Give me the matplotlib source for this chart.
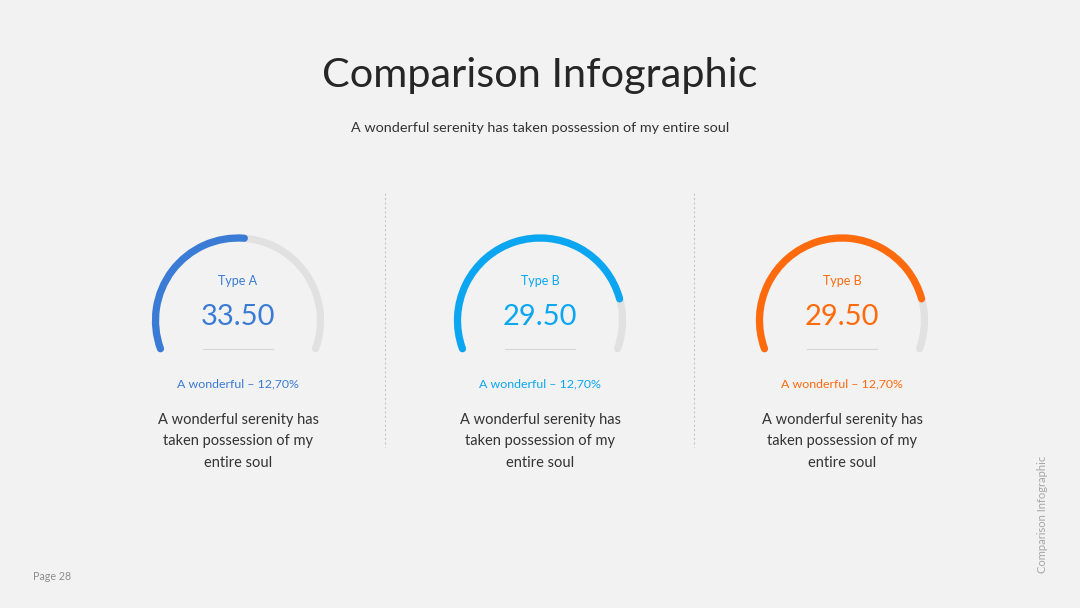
import matplotlib
matplotlib.use("Agg")
import matplotlib.pyplot as plt
from matplotlib.patches import Arc

# ---- data ----
type_labels = ["Type A", "Type B", "Type B"]
gauge_values = [33.50, 29.50, 29.50]
fill_percent = [52, 84, 84]          # share of the arc that is coloured
captions = ["A wonderful \u2013 12,70%"] * 3
body_text = "A wonderful serenity has\ntaken possession of my\nentire soul"
colors = ["#3A7BD5", "#0AA6F2", "#FF6A0C"]

W, H = 1080, 608
BG = "#F2F2F2"
plt.rcParams['font.family'] = ['Lato', 'DejaVu Sans']

fig = plt.figure(figsize=(W / 100, H / 100), dpi=100, facecolor=BG)
ax = fig.add_axes([0, 0, 1, 1])
ax.set_xlim(0, W)
ax.set_ylim(0, H)
ax.set_aspect('equal')
ax.axis('off')


def Y(y):
    # pixel row (top = 0) -> data y
    return H - y


ax.text(540, Y(75), "Comparison Infographic", ha='center', va='center',
        fontsize=29.8, color='#262626')
ax.text(540, Y(128), "A wonderful serenity has taken possession of my entire soul",
        ha='center', va='center', fontsize=10.4, color='#333333')

# dashed separators
for xs in (385, 694):
    ax.plot([xs, xs], [Y(193), Y(447)], color='#C8C8C8', lw=0.8,
            linestyle=(0, (2, 2)))

start_ang, span = 200, 220
radius = 82.5
cy = 320.5
centers = [238, 540, 842]

for i, cx in enumerate(centers):
    col = colors[i]
    track = Arc((cx, Y(cy)), 2 * radius, 2 * radius, theta1=start_ang - span,
                theta2=start_ang, color='#E1E1E1', lw=5.2)
    track.set_capstyle('round')
    ax.add_patch(track)
    end_ang = start_ang - span * fill_percent[i] / 100
    fill = Arc((cx, Y(cy)), 2 * radius, 2 * radius, theta1=end_ang,
               theta2=start_ang, color=col, lw=5.2)
    fill.set_capstyle('round')
    ax.add_patch(fill)

    ax.text(cx, Y(281), type_labels[i], ha='center', va='center',
            fontsize=9, color=col)
    ax.text(cx, Y(317), f"{gauge_values[i]:.2f}", ha='center', va='center',
            fontsize=21, color=col)
    ax.plot([cx - 35, cx + 35], [Y(349), Y(349)], color='#D6D6D6', lw=0.8)
    ax.text(cx, Y(384), captions[i], ha='center', va='center',
            fontsize=8.9, color=col)
    ax.text(cx, Y(441.5), body_text, ha='center', va='center',
            fontsize=10.5, color='#333333', linespacing=1.72)

ax.text(33, Y(576), "Page 28", ha='left', va='center', fontsize=7.7,
        color='#8C8C8C')
ax.text(1043, Y(514), "Comparison Infographic", ha='center', va='center',
        rotation=90, fontsize=8, color='#A6A6A6')

fig.savefig("out.png", dpi=100, facecolor=BG)
